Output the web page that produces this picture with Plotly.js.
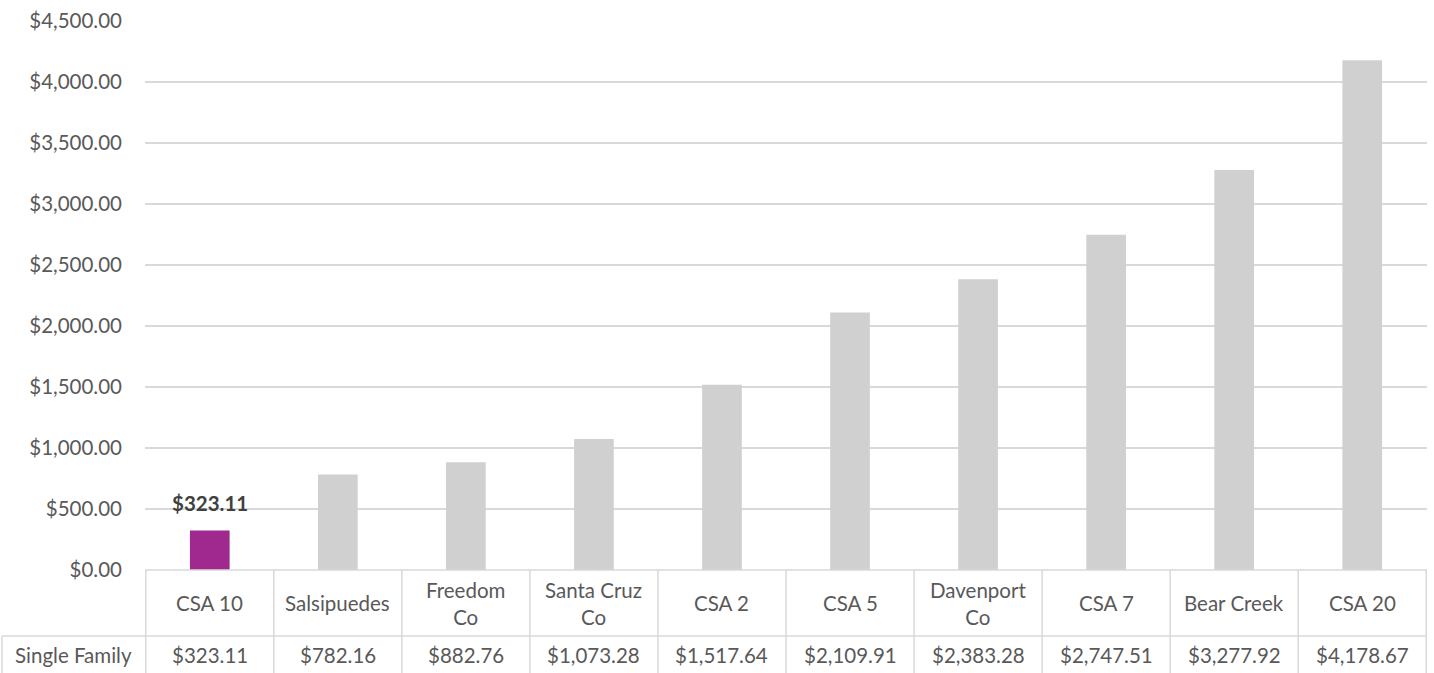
<!DOCTYPE html>
<html>
<head>
<meta charset="utf-8">
<script src="https://cdn.plot.ly/plotly-3.0.1.min.js"></script>
<style>html,body{margin:0;padding:0;background:#fff;}#chart{width:1434px;height:673px;}</style>
</head>
<body>
<div id="chart"></div>
<script>
const categories = ["CSA 10", "Salsipuedes", "Freedom<br>Co", "Santa Cruz<br>Co", "CSA 2", "CSA 5", "Davenport<br>Co", "CSA 7", "Bear Creek", "CSA 20"];
const values = [323.11, 782.16, 882.76, 1073.28, 1517.64, 2109.91, 2383.28, 2747.51, 3277.92, 4178.67];
const seriesName = "Single Family";
const highlightIndex = 0;

const W = 1434, H = 673, L = 145, R = 7, T = 21, B = 103;
const plotW = W - L - R, plotH = H - T - B;
const py = px => -(px - (H - B)) / plotH; // pixel y below plot -> paper
const pxX = px => (px - L) / plotW;

const fmt = v => '$' + v.toLocaleString('en-US', {minimumFractionDigits: 2, maximumFractionDigits: 2});
const colors = values.map((v, i) => i === highlightIndex ? '#a0298f' : '#d0d0d0');
const font = 'Lato, "Open Sans", sans-serif';
const FS = 20.5;
const txtColor = '#595959';
const lineColor = '#d9d9d9';

const trace = {
  type: 'bar',
  x: categories,
  y: values,
  name: seriesName,
  marker: {color: colors},
  hoverinfo: 'x+y'
};

const rowTop = H - B, rowMid = 636, rowBot = H;
const shapes = [];
for (let i = 0; i <= categories.length; i++) {
  shapes.push({type: 'line', xref: 'x', yref: 'paper', x0: i - 0.5, x1: i - 0.5, y0: 0, y1: py(rowBot), line: {color: lineColor, width: 1.5}});
}
shapes.push({type: 'line', xref: 'paper', yref: 'paper', x0: pxX(2), x1: 1, y0: py(rowMid), y1: py(rowMid), line: {color: lineColor, width: 1.5}});
shapes.push({type: 'line', xref: 'paper', yref: 'paper', x0: pxX(2), x1: pxX(2), y0: py(rowMid), y1: py(rowBot), line: {color: lineColor, width: 1.5}});
shapes.push({type: 'line', xref: 'paper', yref: 'paper', x0: 0, x1: 1, y0: 0, y1: 0, line: {color: lineColor, width: 1.5}});

const annotations = [];
categories.forEach((c, i) => {
  annotations.push({xref: 'x', yref: 'paper', x: c, y: py((rowTop + rowMid) / 2), text: c, showarrow: false, xanchor: 'center', yanchor: 'middle', font: {family: font, size: FS, color: txtColor}});
  annotations.push({xref: 'x', yref: 'paper', x: c, y: py((rowMid + rowBot) / 2), text: fmt(values[i]), showarrow: false, xanchor: 'center', yanchor: 'middle', font: {family: font, size: FS, color: txtColor}});
});
annotations.push({xref: 'paper', yref: 'paper', x: pxX(73), y: py((rowMid + rowBot) / 2), text: seriesName, showarrow: false, xanchor: 'center', yanchor: 'middle', font: {family: font, size: FS, color: txtColor}});
annotations.push({xref: 'x', yref: 'y', x: categories[highlightIndex], y: values[highlightIndex], text: '<b>' + fmt(values[highlightIndex]) + '</b>', showarrow: false, yanchor: 'bottom', yshift: 14, font: {family: font, size: FS, color: '#404040'}});

const layout = {
  width: W, height: H,
  margin: {l: L, r: R, t: T, b: B, pad: 0},
  paper_bgcolor: '#fff', plot_bgcolor: '#fff',
  showlegend: false,
  bargap: 0.69,
  font: {family: font, size: FS, color: txtColor},
  xaxis: {showticklabels: false, showgrid: false, zeroline: false, showline: false, ticks: '', fixedrange: true},
  yaxis: {range: [0, 4500], dtick: 500, tickprefix: '$', tickformat: ',.2f', showgrid: true, gridcolor: lineColor, gridwidth: 1.5, zeroline: false, showline: false, ticks: '', ticklabelstandoff: 22, tickfont: {family: font, size: FS, color: txtColor}, fixedrange: true},
  shapes: shapes,
  annotations: annotations
};

Plotly.newPlot('chart', [trace], layout, {displayModeBar: false, staticPlot: true});
</script>
</body>
</html>
